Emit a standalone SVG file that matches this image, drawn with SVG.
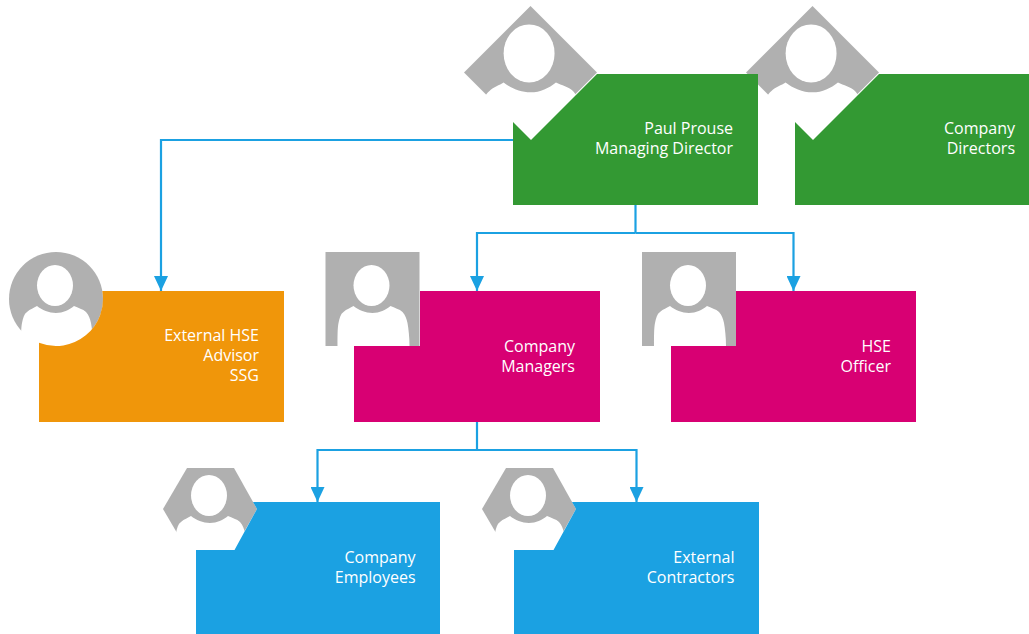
<svg xmlns="http://www.w3.org/2000/svg" width="1029" height="634" viewBox="0 0 1029 634">
<style>
.gray{fill:#b0b0b0}
.white{fill:#fff}
.green{fill:#339933}
.orange{fill:#f0960a}
.pink{fill:#d80073}
.blue{fill:#1ba1e2}
.conn{fill:none;stroke:#1ba1e2;stroke-width:2.200;marker-end:url(#arrow)}
.plain{fill:none;stroke:#1ba1e2;stroke-width:2.200}
text{font-family:"Open Sans","Noto Sans","Liberation Sans",sans-serif;font-size:16px;fill:#fff;text-anchor:end}
</style>
<defs>
<marker id="arrow" markerUnits="userSpaceOnUse" markerWidth="15" markerHeight="14" refX="15" refY="7" orient="auto" viewBox="0 0 15 14">
<path d="M0 0L15 7L0 14Z" fill="#1ba1e2"/>
</marker>
<g id="person">
<ellipse class="white" cx="46" cy="33.500" rx="18" ry="20.500"/>
<path class="white" d="M12 94C12 84 12 76 13 71C14 66 15 62 18 60C21 57 25 56 28 54C33 58 40 61 47 61C54 61 60 58 65 54C69 56 74 57 77 60C80 63 81 67 82 71C83 77 84 85 84 94Z"/>
</g>
</defs>

<g id="connectors">
<path class="conn" d="M513 140H161V291"/>
<path class="plain" d="M635.500 205V233"/>
<path class="conn" d="M635.500 233H477V291"/>
<path class="conn" d="M635.500 233H793.500V291"/>
<path class="plain" d="M477 422V450"/>
<path class="conn" d="M477 450H317.500V502"/>
<path class="conn" d="M477 450H636.500V502"/>
</g>

<g id="node-company-directors">
<g transform="translate(746,6) scale(1.415)"><polygon class="gray" points="47,0 94,47 47,94 0,47"/><use href="#person"/></g>
<path class="green" d="M879 74H1029V205H795V122L813 140Z"/>
<text x="1015" y="133.500">Company</text>
<text x="1015" y="153.500">Directors</text>
</g>

<g id="node-paul-prouse">
<g transform="translate(464,6) scale(1.415)"><polygon class="gray" points="47,0 94,47 47,94 0,47"/><use href="#person"/></g>
<path class="green" d="M597 74H758V205H513V122L531 140Z"/>
<text x="733" y="133.500">Paul Prouse</text>
<text x="733" y="153.500">Managing Director</text>
</g>

<g id="node-external-hse">
<g transform="translate(9,252)"><circle class="gray" cx="47" cy="47" r="47"/><use href="#person"/></g>
<path class="orange" d="M102.300 291H284V422H39V342.800A47 47 0 0 0 102.300 291Z"/>
<text x="259" y="340.500">External HSE</text>
<text x="259" y="360.500">Advisor</text>
<text x="259" y="380.500">SSG</text>
</g>

<g id="node-company-managers">
<g transform="translate(325.500,252)"><rect class="gray" width="94" height="94"/><use href="#person"/></g>
<path class="pink" d="M420 291H600V422H354V346H420Z"/>
<text x="575" y="351.500">Company</text>
<text x="575" y="371.500">Managers</text>
</g>

<g id="node-hse-officer">
<g transform="translate(642,252)"><rect class="gray" width="94" height="94"/><use href="#person"/></g>
<path class="pink" d="M736 291H916V422H671V346H736Z"/>
<text x="891" y="351.500">HSE</text>
<text x="891" y="371.500">Officer</text>
</g>

<g id="node-company-employees">
<g transform="translate(163,462)"><polygon class="gray" points="0,47 24,6 71,6 94,47 71,88 24,88"/><use href="#person"/></g>
<path class="blue" d="M253 502H440V634H196V550H234.500L257 509Z"/>
<text x="415.500" y="562.500">Company</text>
<text x="415.500" y="582.500">Employees</text>
</g>

<g id="node-external-contractors">
<g transform="translate(482,462)"><polygon class="gray" points="0,47 24,6 71,6 94,47 71,88 24,88"/><use href="#person"/></g>
<path class="blue" d="M572 502H759V634H514V550H553.500L576 509Z"/>
<text x="734.500" y="562.500">External</text>
<text x="734.500" y="582.500">Contractors</text>
</g>
</svg>
